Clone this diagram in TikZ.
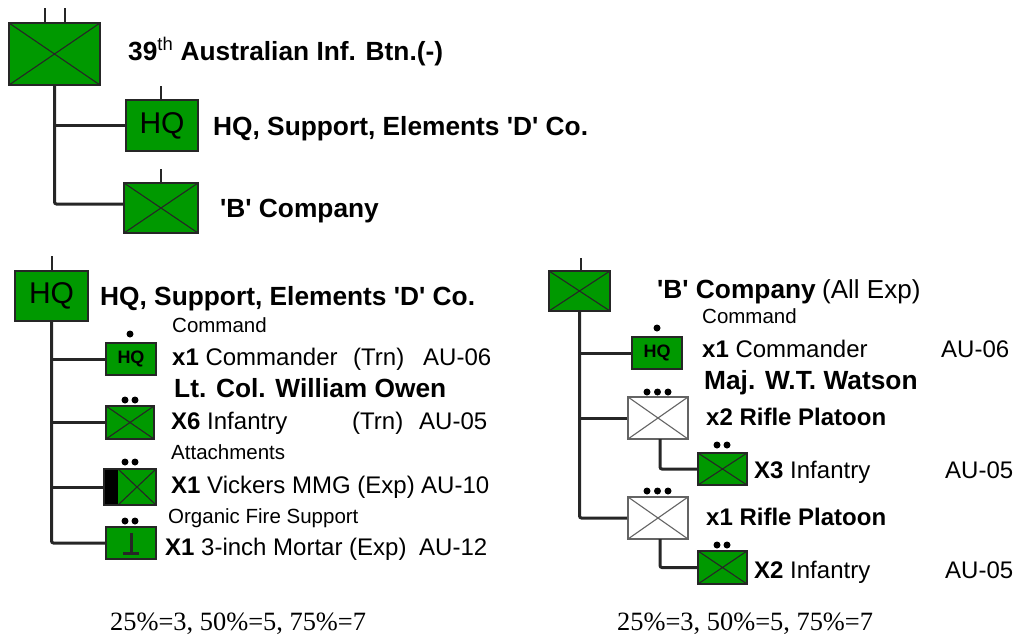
\documentclass[tikz,border=0pt]{standalone}
\usepackage{fontspec}
\setmainfont{Liberation Sans}
\newfontfamily\pctfont{Liberation Serif}
\usepackage{tikz}
\usetikzlibrary{positioning}
\definecolor{armygreen}{RGB}{0,153,0}
\definecolor{ashline}{RGB}{100,100,100}
\newcommand{\qt}{\textquotesingle}
\newcommand{\Cross}{\draw[line width=1.1pt] (path picture bounding box.north west) -- (path picture bounding box.south east)
  (path picture bounding box.south west) -- (path picture bounding box.north east);}

\begin{document}
\begin{tikzpicture}[x=1pt, y=-1pt,
      unit/.style={rectangle, draw=black!85, line width=1.8pt, fill=armygreen, inner sep=0pt},
      inf/.style={unit, path picture={\Cross}},
      rifle/.style={unit, fill=white, draw=ashline, path picture={\begin{scope}[ashline]\Cross\end{scope}}},
      mmg/.style={unit, path picture={
        \fill[black] (path picture bounding box.north west) rectangle ([xshift=14pt]path picture bounding box.south west);
        \draw[line width=1.1pt] ([xshift=14pt]path picture bounding box.north west) -- (path picture bounding box.south east)
              ([xshift=14pt]path picture bounding box.south west) -- (path picture bounding box.north east);}},
      mortar/.style={unit, path picture={
        \draw[line width=3pt] ([yshift=-6pt]path picture bounding box.north) -- ([yshift=6pt]path picture bounding box.south)
          ([xshift=-8pt,yshift=6pt]path picture bounding box.south) -- ([xshift=8pt,yshift=6pt]path picture bounding box.south);}},
      link/.style={black!85, line width=3pt, rounded corners=2pt},
      tick/.style={black!85, line width=2.4pt},
      pip/.style={circle, fill=black, inner sep=0pt, minimum size=7pt},
      lbl/.style={anchor=base west, inner sep=0pt, font=\fontsize{24}{28}\selectfont},
      bld/.style={lbl, font=\fontsize{26.3}{30}\bfseries\selectfont},
      plt/.style={lbl, font=\fontsize{24}{28}\bfseries\selectfont},
      small/.style={lbl, font=\fontsize{20.5}{24}\selectfont},
      pct/.style={lbl, font=\fontsize{26.4}{30}\pctfont\selectfont}]
    \useasboundingbox (0,0) rectangle (1015,635);
    % battalion tree
    \node[inf, minimum width=91pt, minimum height=62pt] (btn) at (54.5,54) {};
    \node[unit, minimum width=72pt, minimum height=51pt, font=\fontsize{30}{34}\selectfont] (hqtop) at (162,125.5) {HQ};
    \node[inf, minimum width=74pt, minimum height=50pt] (cotop) at (161,208) {};
    \coordinate (cotopin) at (124,204);
    \draw[link] (btn.south) |- (cotopin);
    \draw[link] (btn.south |- hqtop.west) -- (hqtop.west);
    \node[bld] (ttl) at (128,60) {39\textsuperscript{\normalfont th} Australian Inf. Btn.(-)};
    \node[bld] (ttlhq) at (213,135) {HQ, Support, Elements \qt D\qt{} Co.};
    \node[bld] (ttlco) at (220,217) {\qt B\qt{} Company};
    % left tree
    \node[unit, minimum width=73pt, minimum height=50pt, font=\fontsize{30}{34}\selectfont] (hqd) at (51.5,296) {HQ};
    \node[unit, minimum width=50pt, minimum height=32pt, font=\fontsize{18}{20}\bfseries\selectfont] (cmda) at (131,359) {HQ};
    \node[inf, minimum width=48pt, minimum height=33pt] (infa) at (130,422.5) {};
    \node[mmg, minimum width=52pt, minimum height=36pt] (vick) at (130,487) {};
    \node[mortar, minimum width=50pt, minimum height=32pt] (mort) at (131,543) {};
    \draw[link] (hqd.south) |- (mort.west);
    \foreach \u in {cmda, infa, vick}{
      \draw[link] (hqd.south |- \u.west) -- (\u.west);
    }
    % right tree
    \node[inf, minimum width=61pt, minimum height=40pt] (cob) at (579.5,291) {};
    \node[unit, minimum width=50pt, minimum height=32pt, font=\fontsize{18}{20}\bfseries\selectfont] (cmdb) at (657,353) {HQ};
    \node[rifle, minimum width=60pt, minimum height=42pt] (plta) at (658,418) {};
    \node[rifle, minimum width=60pt, minimum height=42pt] (pltb) at (658,518) {};
    \node[inf, minimum width=49pt, minimum height=32pt] (infb) at (722.5,469) {};
    \node[inf, minimum width=49pt, minimum height=33pt] (infc) at (722.5,567.5) {};
    \draw[link] (cob.south) |- (pltb.west);
    \foreach \u in {cmdb, plta}{
      \draw[link] (cob.south |- \u.west) -- (\u.west);
    }
    \coordinate (dropa) at (660,439);
    \coordinate (dropb) at (660,539);
    \draw[link] (dropa) |- (infb.west);
    \draw[link] (dropb) |- (infc.west);
    % ticks on top of the boxes
    \foreach \name/\xa/\ya/\yb in {a/45/8/23, b/65/8/23, c/161/86/100, d/161/169/183, e/52/256/271, f/581/258/271}{
      \coordinate (tk\name) at (\xa,\ya);
      \coordinate (tb\name) at (\xa,\yb);
      \draw[tick] (tk\name) -- (tb\name);
    }
    % echelon dots
    \foreach \name/\xa/\ya in {a/130/334, b/125/400, c/135/400, d/125/462, e/135/462, f/125/521, g/135/521,
        h/657/328, i/647/392, j/657.5/392, k/668/392, l/717/445, m/727/445,
        n/647/491, o/657.5/491, p/668/491, q/717/545, r/727/545}{
      \node[pip] (pip\name) at (\xa,\ya) {};
    }
    % left labels
    \node[bld] (lhead) at (100,305) {HQ, Support, Elements \qt D\qt{} Co.};
    \node[small] (lcmd) at (172,332) {Command};
    \node[lbl] (lrowa) at (172,365) {\textbf{x1} Commander};
    \node[lbl] (ltrna) at (353,365) {(Trn)};
    \node[lbl] (lau06) at (423,365) {AU-06};
    \node[bld] (lname) at (174,397) {Lt. Col. William Owen};
    \node[lbl] (lrowb) at (171,429) {\textbf{X6} Infantry};
    \node[lbl] (ltrnb) at (352,429) {(Trn)};
    \node[lbl] (lau05) at (419,429) {AU-05};
    \node[small] (latt) at (171,459) {Attachments};
    \node[lbl] (lrowc) at (171,493) {\textbf{X1} Vickers MMG (Exp)};
    \node[lbl] (lau10) at (421,493) {AU-10};
    \node[small] (lorg) at (168,523) {Organic Fire Support};
    \node[lbl] (lrowd) at (165,555) {\textbf{X1} 3-inch Mortar (Exp)};
    \node[lbl] (lau12) at (419,555) {AU-12};
    \node[pct] (lpct) at (110,630) {25\%=3, 50\%=5, 75\%=7};
    % right labels
    \node[bld] (rhead) at (657,298) {\qt B\qt{} Company};
    \node[lbl, font=\fontsize{26}{30}\selectfont] (rall) at (822,298) {(All Exp)};
    \node[small] (rcmd) at (702,323) {Command};
    \node[lbl] (rrowa) at (702,357) {\textbf{x1} Commander};
    \node[lbl] (rau06) at (941,357) {AU-06};
    \node[bld] (rname) at (704,389) {Maj. W.T. Watson};
    \node[plt] (rplta) at (706,425) {x2 Rifle Platoon};
    \node[lbl] (rrowb) at (754,478) {\textbf{X3} Infantry};
    \node[lbl] (rau05a) at (945,478) {AU-05};
    \node[plt] (rpltb) at (706,525) {x1 Rifle Platoon};
    \node[lbl] (rrowc) at (754,578) {\textbf{X2} Infantry};
    \node[lbl] (rau05b) at (945,578) {AU-05};
    \node[pct] (rpct) at (617,630.5) {25\%=3, 50\%=5, 75\%=7};
\end{tikzpicture}
\end{document}
